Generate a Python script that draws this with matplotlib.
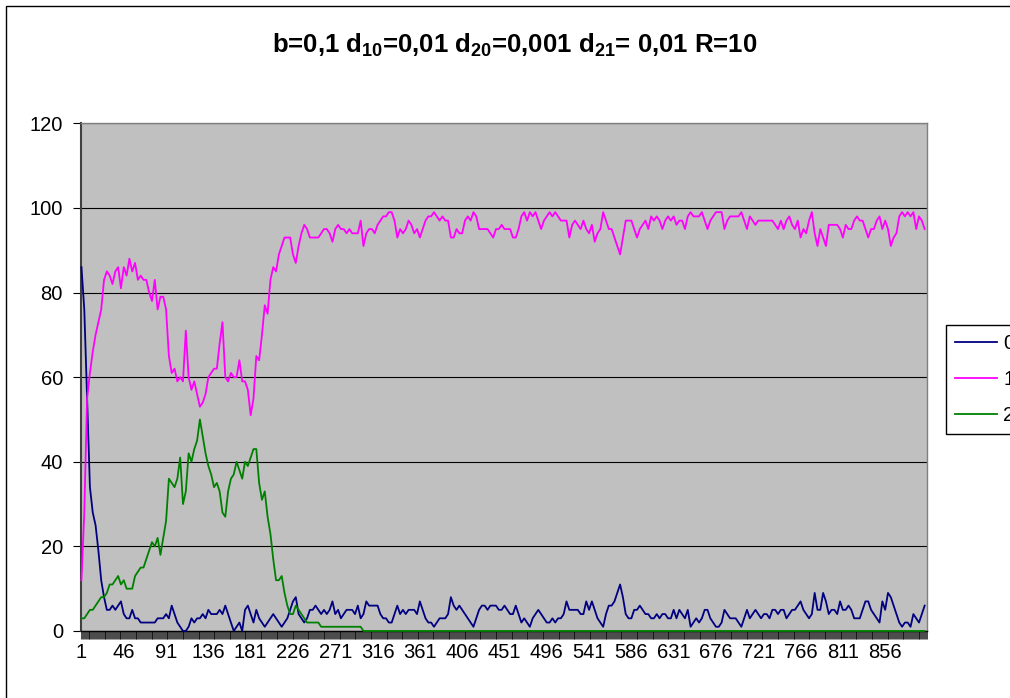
import numpy as np
import matplotlib
matplotlib.use("Agg")
import matplotlib.pyplot as plt
from matplotlib.patches import Rectangle

plt.rcParams['font.family'] = ['Liberation Sans', 'DejaVu Sans']
plt.rcParams['mathtext.fontset'] = 'custom'
plt.rcParams['mathtext.rm'] = 'Liberation Sans:bold'
plt.rcParams['mathtext.it'] = 'Liberation Sans:bold'
plt.rcParams['mathtext.bf'] = 'Liberation Sans:bold'

# === Daten (jeder 3. Schritt) ===========================================
n_steps = 900
steps = np.arange(1, n_steps + 1, 3)

series0 = [
    86, 76, 55, 34, 28, 25, 19, 12, 8, 5,
    5, 6, 5, 6, 7, 4, 3, 3, 5, 3,
    3, 2, 2, 2, 2, 2, 2, 3, 3, 3,
    4, 3, 6, 4, 2, 1, 0, 0, 1, 3,
    2, 3, 3, 4, 3, 5, 4, 4, 4, 5,
    4, 6, 4, 2, 0, 1, 2, 0, 5, 6,
    4, 2, 5, 3, 2, 1, 2, 3, 4, 3,
    2, 1, 2, 3, 5, 7, 8, 4, 3, 2,
    3, 5, 5, 6, 5, 4, 5, 4, 5, 7,
    4, 5, 3, 4, 5, 5, 5, 4, 6, 3,
    4, 7, 6, 6, 6, 6, 4, 3, 3, 2,
    2, 4, 6, 4, 5, 4, 5, 5, 5, 4,
    7, 5, 3, 2, 2, 1, 2, 3, 3, 3,
    4, 8, 6, 5, 6, 5, 4, 3, 2, 1,
    3, 5, 6, 6, 5, 6, 6, 6, 5, 5,
    6, 5, 4, 4, 6, 4, 2, 3, 2, 1,
    3, 4, 5, 4, 3, 2, 2, 3, 2, 3,
    3, 4, 7, 5, 5, 5, 5, 4, 4, 7,
    5, 7, 5, 3, 2, 1, 4, 6, 6, 7,
    9, 11, 8, 4, 3, 3, 5, 5, 6, 5,
    4, 4, 3, 3, 4, 3, 4, 4, 3, 3,
    5, 3, 5, 4, 3, 5, 1, 2, 3, 2,
    3, 5, 5, 3, 2, 1, 1, 2, 5, 4,
    3, 3, 3, 2, 1, 3, 5, 3, 4, 5,
    4, 3, 4, 4, 3, 5, 5, 4, 5, 5,
    3, 4, 5, 5, 6, 7, 5, 4, 3, 4,
    9, 5, 5, 9, 7, 4, 5, 5, 4, 7,
    5, 5, 6, 5, 3, 3, 3, 5, 7, 7,
    5, 4, 3, 2, 7, 5, 9, 8, 6, 4,
    2, 1, 2, 2, 1, 4, 3, 2, 4, 6,
]

series1 = [
    12, 28, 55, 61, 66, 70, 73, 76, 83, 85,
    84, 82, 85, 86, 81, 86, 84, 88, 85, 87,
    83, 84, 83, 83, 80, 78, 83, 76, 79, 79,
    76, 65, 61, 62, 59, 60, 59, 71, 60, 57,
    59, 56, 53, 54, 56, 60, 61, 62, 62, 68,
    73, 60, 59, 61, 60, 60, 64, 59, 59, 57,
    51, 55, 65, 64, 70, 77, 75, 83, 86, 85,
    89, 91, 93, 93, 93, 89, 87, 91, 94, 96,
    95, 93, 93, 93, 93, 94, 95, 95, 94, 92,
    95, 96, 95, 95, 94, 95, 94, 94, 94, 97,
    91, 94, 95, 95, 94, 96, 97, 98, 98, 99,
    99, 97, 93, 95, 94, 95, 97, 96, 94, 95,
    93, 95, 97, 98, 98, 99, 98, 97, 98, 97,
    97, 93, 93, 95, 94, 94, 97, 98, 97, 99,
    98, 95, 95, 95, 95, 94, 93, 95, 95, 96,
    95, 95, 95, 93, 93, 95, 98, 99, 97, 99,
    98, 99, 97, 95, 97, 98, 99, 98, 99, 98,
    97, 97, 97, 93, 96, 97, 96, 95, 97, 95,
    94, 96, 92, 94, 95, 99, 97, 95, 95, 93,
    91, 89, 93, 97, 97, 97, 95, 93, 95, 96,
    97, 95, 98, 97, 98, 97, 95, 97, 98, 97,
    98, 96, 97, 97, 95, 98, 99, 98, 98, 98,
    99, 97, 95, 97, 98, 99, 99, 99, 95, 97,
    98, 98, 98, 98, 99, 97, 95, 98, 97, 96,
    97, 97, 97, 97, 97, 97, 96, 95, 97, 95,
    97, 98, 96, 95, 97, 93, 95, 94, 97, 99,
    94, 91, 95, 93, 91, 96, 96, 96, 96, 95,
    93, 96, 95, 95, 97, 98, 97, 97, 95, 93,
    95, 95, 97, 98, 95, 97, 95, 91, 93, 94,
    98, 99, 98, 99, 98, 99, 95, 98, 97, 95,
]

series2 = [
    3, 3, 4, 5, 5, 6, 7, 8, 8, 9,
    11, 11, 12, 13, 11, 12, 10, 10, 10, 13,
    14, 15, 15, 17, 19, 21, 20, 22, 18, 22,
    26, 36, 35, 34, 36, 41, 30, 33, 42, 40,
    43, 45, 50, 46, 42, 39, 37, 34, 35, 33,
    28, 27, 33, 36, 37, 40, 38, 36, 40, 39,
    41, 43, 43, 35, 31, 33, 27, 23, 17, 12,
    12, 13, 9, 6, 4, 4, 6, 5, 4, 3,
    2, 2, 2, 2, 2, 1, 1, 1, 1, 1,
    1, 1, 1, 1, 1, 1, 1, 1, 1, 1,
] + [0] * 200

labels = ['0', '1', '2']
colors = ['#000080', '#FF00FF', '#008000']
title = (r'b=0,1 d$_{10}$=0,01 d$_{20}$=0,001 d$_{21}$= 0,01 R=10')

# === Layout ==============================================================
fig = plt.figure(figsize=(10.1, 6.98), dpi=100)
ax = fig.add_axes([81/1010, 1 - 631/698, 846/1010, (631 - 123.3)/698])
ax.set_facecolor('#C0C0C0')

for ys, lab, col in zip([series0, series1, series2], labels, colors):
    ax.plot(steps, ys, color=col, lw=1.3, label=lab, clip_on=False, zorder=3)

ax.set_xlim(0.5, n_steps + 0.5)
ax.set_ylim(0, 120)
ax.set_yticks(np.arange(0, 121, 20))
ax.yaxis.grid(True, color='black', lw=0.8)
ax.set_axisbelow(True)

# Kategorie-Achse: Striche an jeder Kategorie, Beschriftung alle 45
ax.set_xticks(np.arange(1, n_steps + 1, 45))
ax.set_xticks(np.arange(0.5, n_steps + 1, 1), minor=True)
ax.tick_params(axis='x', which='major', length=0, pad=9, labelsize=14.5)
ax.tick_params(axis='x', which='minor', length=6, width=0.5, color='black')
ax.tick_params(axis='y', which='major', length=6, width=0.8, pad=7, labelsize=14.5)

for side in ['top', 'right']:
    ax.spines[side].set_color('#808080')
    ax.spines[side].set_linewidth(1.0)
ax.spines['left'].set_color('#404040')
ax.spines['left'].set_linewidth(1.5)
ax.spines['bottom'].set_color('black')
ax.spines['bottom'].set_linewidth(1.0)

fig.text(515/1010, 1 - 45/698, title, ha='center', va='center',
         fontsize=18.5, fontweight='bold')

leg = fig.legend(loc='upper left', bbox_to_anchor=(946/1010, 1 - 325/698),
                 fontsize=14.5, handlelength=2.1, handletextpad=0.3,
                 labelspacing=0.85, borderpad=0.45, borderaxespad=0,
                 fancybox=False, framealpha=1)
leg.get_frame().set_edgecolor('black')
leg.get_frame().set_linewidth(1.0)

# Rahmen des Diagrammbereichs (rechts und unten abgeschnitten)
fig.patches.append(Rectangle((6/1010, -0.2), 1.2, 1.2 - 6/698,
                             transform=fig.transFigure, fill=False,
                             edgecolor='black', lw=1.0))

fig.savefig('out.png', dpi=100)
